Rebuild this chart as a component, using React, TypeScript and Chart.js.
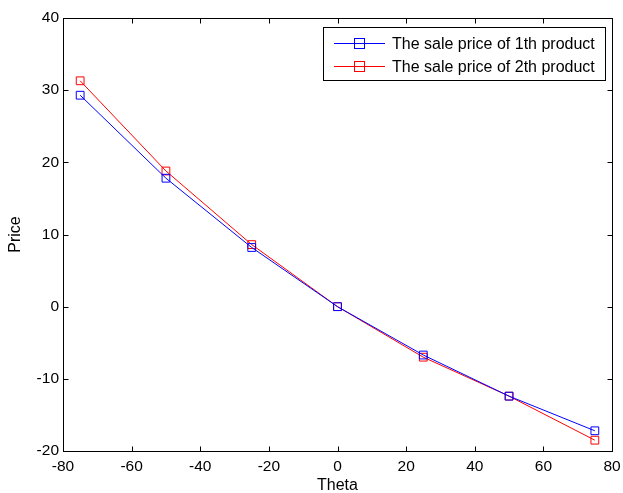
import React, { useEffect, useRef } from "react";
import { Chart, registerables } from "chart.js";

Chart.register(...registerables);

const thetas = [-75, -50, -25, 0, 25, 50, 75];
const price1 = [29.3, 17.8, 8.2, 0, -6.7, -12.4, -17.2];
const price2 = [31.3, 18.8, 8.6, 0, -7.0, -12.4, -18.5];
const seriesNames = ["The sale price of 1th product", "The sale price of 2th product"];
const seriesColors = ["#0000ff", "#ff0000"];
const xTicks = [-80, -60, -40, -20, 0, 20, 40, 60, 80];
const yTicks = [-20, -10, 0, 10, 20, 30, 40];
const xTitle = "Theta";
const yTitle = "Price";

const FONT = "Liberation Sans, Arial, sans-serif";

const boxPlugin = {
  id: "matlabBox",
  afterDraw(chart: any) {
    const { ctx, chartArea: a, scales } = chart;
    ctx.save();
    ctx.strokeStyle = "#000";
    ctx.lineWidth = 1;
    const L = Math.round(a.left) + 0.5, R = Math.round(a.right) + 0.5;
    const T = Math.round(a.top) + 0.5, B = Math.round(a.bottom) + 0.5;
    ctx.strokeRect(L, T, R - L, B - T);
    const tl = 5;
    ctx.beginPath();
    xTicks.forEach((v) => {
      const px = Math.round(scales.x.getPixelForValue(v)) + 0.5;
      ctx.moveTo(px, B); ctx.lineTo(px, B - tl);
      ctx.moveTo(px, T); ctx.lineTo(px, T + tl);
    });
    yTicks.forEach((v) => {
      const py = Math.round(scales.y.getPixelForValue(v)) + 0.5;
      ctx.moveTo(L, py); ctx.lineTo(L + tl, py);
      ctx.moveTo(R, py); ctx.lineTo(R - tl, py);
    });
    ctx.stroke();

    // axis titles
    ctx.fillStyle = "#000";
    ctx.font = `16px ${FONT}`;
    ctx.textAlign = "center";
    ctx.textBaseline = "middle";
    ctx.fillText(xTitle, (a.left + a.right) / 2, 486);
    ctx.save();
    ctx.translate(16, (a.top + a.bottom) / 2);
    ctx.rotate(-Math.PI / 2);
    ctx.fillText(yTitle, 0, 0);
    ctx.restore();

    // legend
    const lx = 323.5, ly = 27.5, lw = 282, lh = 53;
    ctx.fillStyle = "#fff";
    ctx.fillRect(lx, ly, lw, lh);
    ctx.strokeStyle = "#000";
    ctx.strokeRect(lx, ly, lw, lh);
    ctx.font = `16px ${FONT}`;
    ctx.textBaseline = "middle";
    ctx.textAlign = "left";
    seriesNames.forEach((name, i) => {
      const yy = Math.round(ly + 15 + i * 23) + 0.5;
      ctx.strokeStyle = seriesColors[i];
      ctx.beginPath();
      ctx.moveTo(334, yy); ctx.lineTo(385, yy);
      ctx.stroke();
      ctx.strokeRect(354.5, yy - 5, 10, 10);
      ctx.fillStyle = "#000";
      ctx.fillText(name, 392, yy + 1);
    });
    ctx.restore();
  },
};

export default function App() {
  const ref = useRef<HTMLCanvasElement>(null);
  useEffect(() => {
    if (!ref.current) return;
    const chart = new Chart(ref.current, {
      type: "line",
      data: {
        datasets: [price1, price2].map((vals, i) => ({
          label: seriesNames[i],
          data: thetas.map((t, j) => ({ x: t, y: vals[j] })),
          borderColor: seriesColors[i],
          backgroundColor: "rgba(0,0,0,0)",
          borderWidth: 1,
          pointStyle: "rect",
          pointRadius: 5.5,
          pointBorderWidth: 1,
          pointBackgroundColor: "rgba(0,0,0,0)",
          pointBorderColor: seriesColors[i],
          tension: 0,
          fill: false,
        })),
      },
      options: {
        responsive: false,
        animation: false,
        layout: { padding: { top: 18, right: 11, left: 0, bottom: 0 } },
        plugins: { legend: { display: false }, tooltip: { enabled: false } },
        scales: {
          x: {
            type: "linear",
            min: -80,
            max: 80,
            afterBuildTicks: (s: any) => { s.ticks = xTicks.map((v) => ({ value: v })); },
            afterFit: (s: any) => { s.height = 42; s.paddingLeft = 0; s.paddingRight = 0; },
            grid: { display: false, drawTicks: false },
            border: { display: false },
            ticks: { color: "#000", font: { family: FONT, size: 15.5 }, padding: 6, maxRotation: 0 },
          },
          y: {
            type: "linear",
            min: -20,
            max: 40,
            afterBuildTicks: (s: any) => { s.ticks = yTicks.map((v) => ({ value: v })); },
            afterFit: (s: any) => { s.width = 63; s.paddingTop = 0; s.paddingBottom = 0; },
            grid: { display: false, drawTicks: false },
            border: { display: false },
            ticks: { color: "#000", font: { family: FONT, size: 15.5 }, padding: 4 },
          },
        },
      },
      plugins: [boxPlugin],
    } as any);
    return () => chart.destroy();
  }, []);
  return (
    <div style={{ position: "fixed", left: 0, top: 0, width: 623, height: 493, background: "#fff" }}>
      <canvas ref={ref} width={623} height={493} />
    </div>
  );
}
